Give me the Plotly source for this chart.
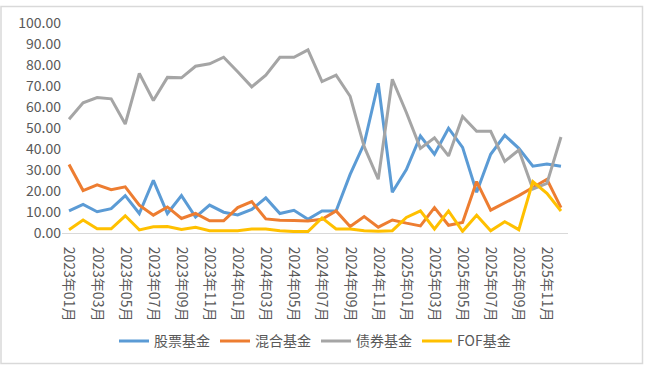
import plotly.graph_objects as go

months = [f"{y}年{m:02d}月" for y in (2023, 2024, 2025) for m in range(1, 13)]
tick_labels = [f"{y}年{m:02d}月" for y in (2023, 2024, 2025) for m in range(1, 13, 2)]

stock = [10.5, 13.6, 10.1, 11.6, 17.8, 9.3, 25.1, 9.3, 17.8, 7.6, 13.3, 9.9,
         8.6, 11.2, 16.7, 9.3, 10.8, 6.5, 10.5, 10.5, 27.9, 42.6, 71.3, 19.4,
         30.2, 46.2, 37.5, 49.9, 40.8, 19.4, 37.5, 46.5, 40.3, 31.8, 32.9, 31.8]
mixed = [32.6, 20.2, 22.9, 20.6, 22.0, 13.2, 8.5, 12.4, 6.9, 9.3, 5.8, 5.8,
         12.1, 15.0, 6.7, 6.1, 6.0, 5.7, 6.5, 10.5, 3.1, 7.8, 2.8, 6.2,
         4.7, 3.4, 12.1, 3.7, 5.0, 24.5, 10.9, 14.3, 17.8, 21.7, 25.6, 12.1]
bond = [54.2, 62.0, 64.5, 63.9, 51.9, 76.0, 63.1, 74.1, 73.9, 79.4, 80.6, 83.7,
        76.8, 69.6, 75.2, 83.7, 83.7, 87.2, 72.1, 75.2, 65.1, 41.1, 25.6, 73.2,
        57.4, 40.3, 45.3, 36.7, 55.5, 48.4, 48.4, 34.1, 39.5, 20.9, 23.6, 45.7]
fof = [1.6, 6.2, 2.0, 2.0, 8.2, 1.5, 3.0, 3.1, 1.7, 2.7, 1.1, 1.1,
       1.1, 1.9, 1.9, 1.1, 0.7, 0.7, 7.2, 1.9, 1.9, 1.1, 0.8, 1.1,
       7.4, 10.5, 1.9, 10.5, 0.8, 8.5, 1.1, 5.4, 1.6, 24.5, 18.9, 10.5]

series = [("股票基金", stock, "#5B9BD5"), ("混合基金", mixed, "#ED7D31"),
          ("债券基金", bond, "#A5A5A5"), ("FOF基金", fof, "#FFC000")]

font = "Noto Sans CJK SC"
fig = go.Figure()
for name, vals, color in series:
    fig.add_trace(go.Scatter(x=months, y=vals, name=name, mode="lines",
                             line=dict(color=color, width=3)))

L, R, T, B = 62, 568, 18, 233
W, H = 645, 369
pw, ph = R - L, B - T
fig.update_layout(
    width=W, height=H,
    margin=dict(l=L, r=W - R, t=T, b=H - B),
    paper_bgcolor="white", plot_bgcolor="white",
    font=dict(family=font, color="#595959", size=13),
    showlegend=True,
    legend=dict(orientation="h", x=0.5, xanchor="center", y=(B - 344) / ph,
                yanchor="middle", font=dict(size=14, color="#595959"),
                itemwidth=30, tracegroupgap=0),
    xaxis=dict(type="category", range=[-0.5, 35.5], tickmode="array",
               tickvals=tick_labels, ticktext=tick_labels, tickangle=90,
               showgrid=False, showline=True, linecolor="#D9D9D9", linewidth=1,
               ticks="", ticklabelstandoff=10,
               tickfont=dict(size=14, color="#595959"), zeroline=False),
    yaxis=dict(range=[0, 100], tickvals=list(range(0, 101, 10)), tickformat=".2f",
               showgrid=False, zeroline=False, showline=False, ticks="",
               tickfont=dict(size=14, color="#595959")),
    shapes=[dict(type="rect", xref="paper", yref="paper",
                 x0=(1 - L) / pw, x1=(W - 2.5 - L) / pw,
                 y0=(B - (H - 2.5)) / ph, y1=(B - 1) / ph,
                 line=dict(color="#D9D9D9", width=1.5), fillcolor="rgba(0,0,0,0)",
                 layer="below")],
)
fig.write_html("out.html", config={"displayModeBar": False},
               post_script="document.body.style.margin='0';document.body.style.overflow='hidden';")
